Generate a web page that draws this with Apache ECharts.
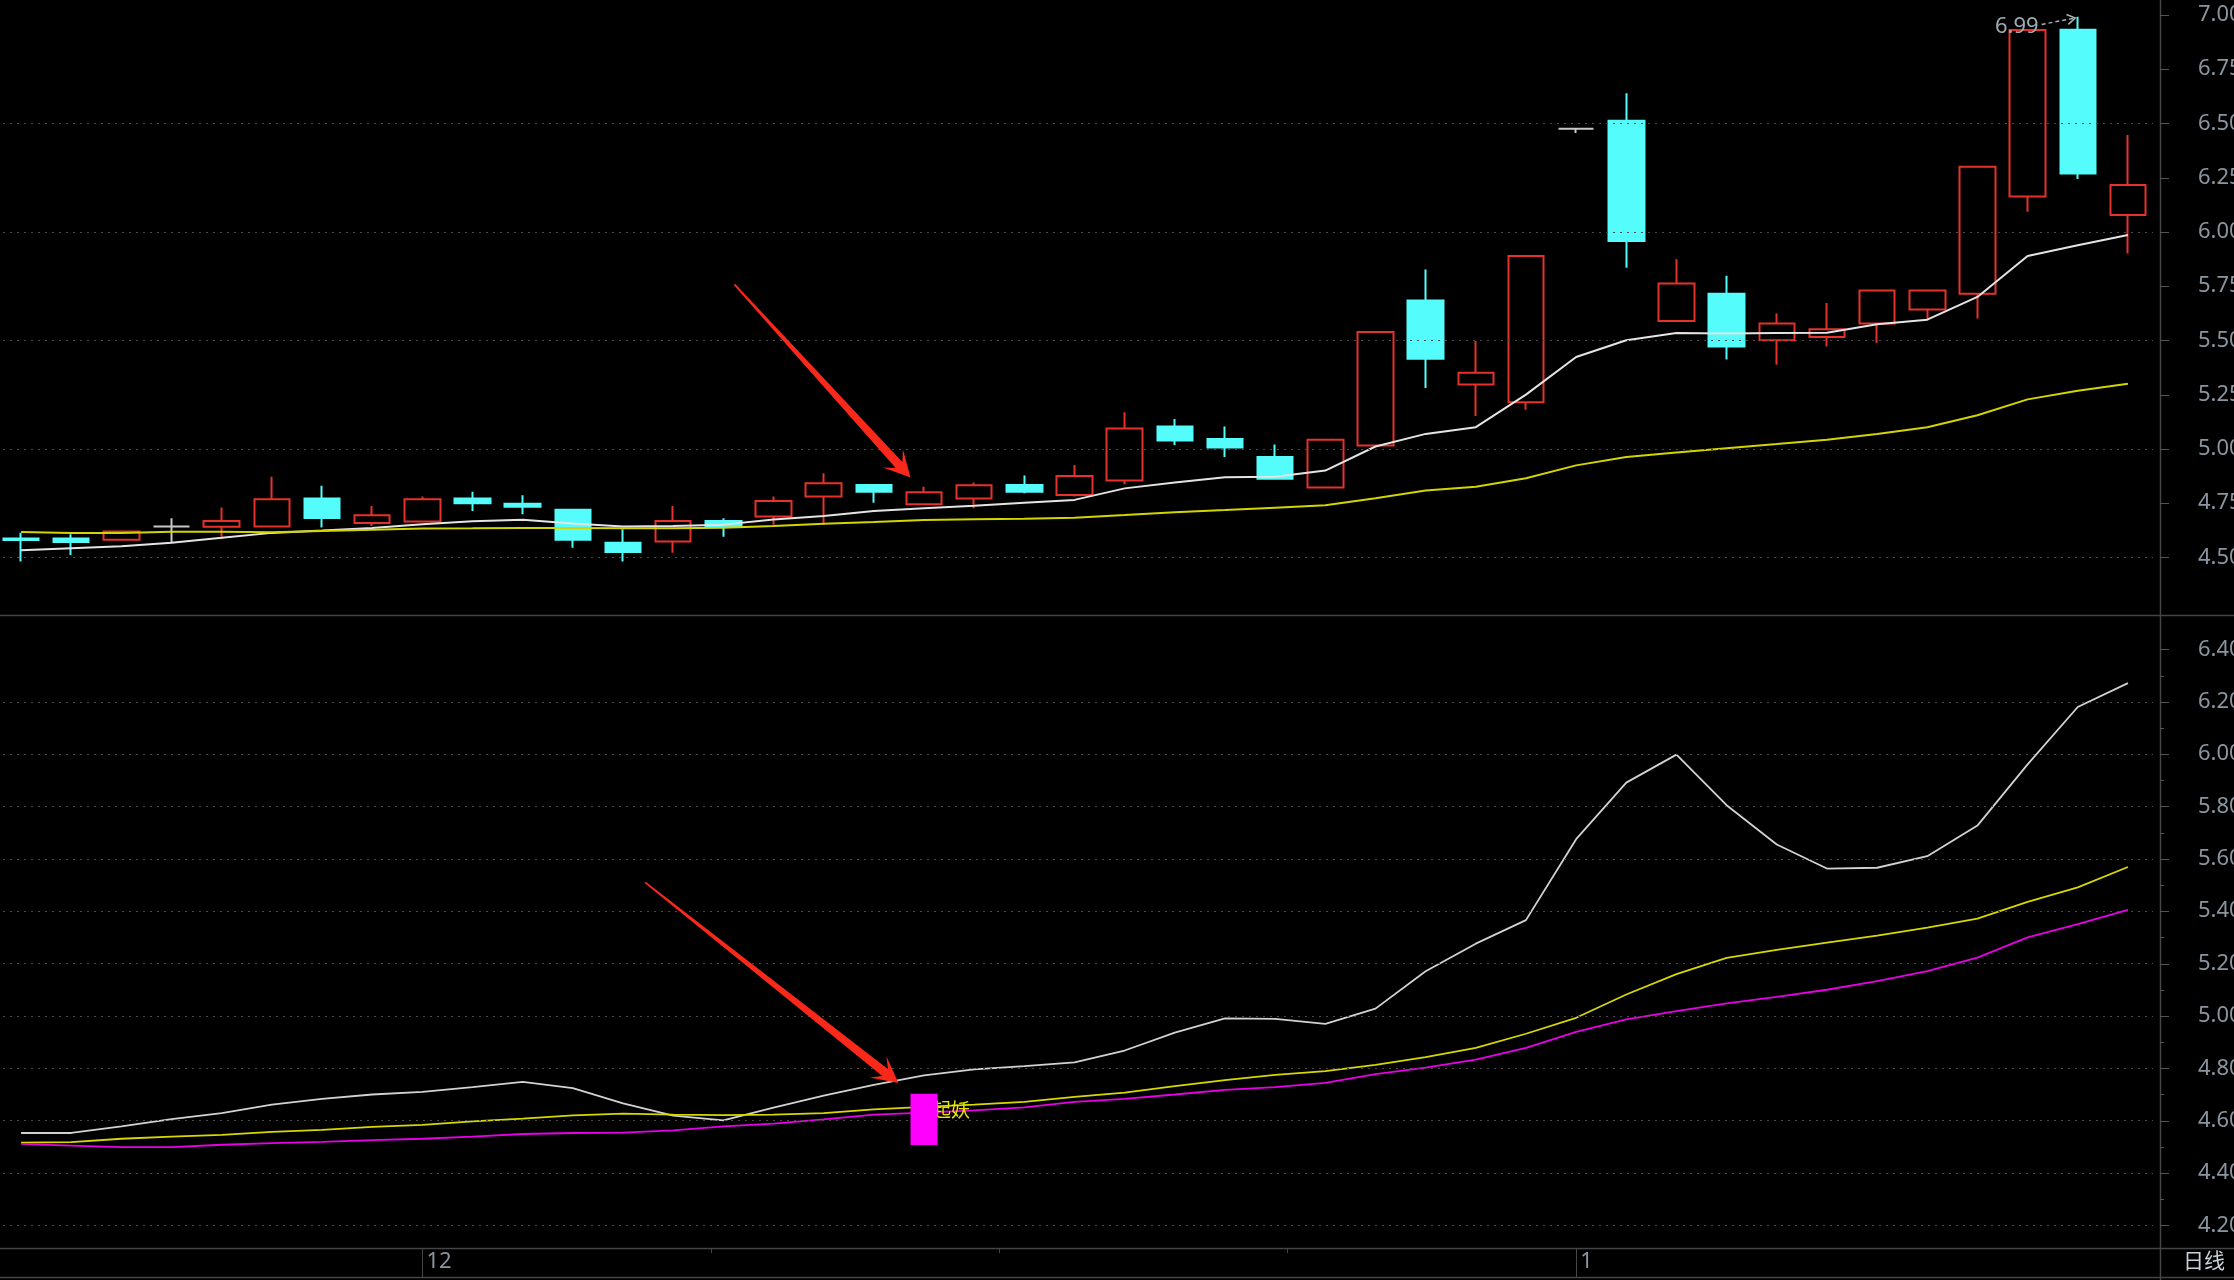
<!DOCTYPE html>
<html>
<head>
<meta charset="utf-8">
<script src="https://cdn.jsdelivr.net/npm/echarts@6/dist/echarts.min.js"></script>
<style>
html,body{margin:0;padding:0;background:#000;}
#chart{width:2234px;height:1280px;}
</style>
</head>
<body>
<div id="chart"></div>
<script>
// ---------- data ----------
const sessions = ['1','2','3','4','5','6','7','8','9','10','11','12','13','14','15','16','17','18','19','20','21','22','23','24','25','26','27','28','29','30','31','32','33','34','35','36','37','38','39','40','41','42','43'];

const openP  = [4.587,4.587,4.581,4.642,4.641,4.642,4.771,4.659,4.665,4.771,4.747,4.719,4.568,4.573,4.668,4.688,4.780,4.834,4.745,4.771,4.834,4.788,4.854,5.103,5.045,4.962,4.822,5.015,5.683,5.297,5.215,6.475,6.511,5.589,5.714,5.500,5.515,5.577,5.642,5.715,6.162,6.931,6.077];
const closeP = [4.580,4.571,4.619,4.642,4.668,4.768,4.682,4.694,4.768,4.750,4.733,4.581,4.525,4.668,4.642,4.760,4.842,4.803,4.800,4.832,4.803,4.875,5.094,5.038,5.006,4.862,5.042,5.538,5.415,5.351,5.888,6.475,5.958,5.762,5.472,5.577,5.551,5.729,5.729,6.300,6.929,6.269,6.215];
const lowP   = [4.481,4.511,4.581,4.568,4.584,4.642,4.638,4.645,4.665,4.714,4.699,4.545,4.481,4.522,4.595,4.650,4.650,4.752,4.745,4.726,4.795,4.780,4.837,5.018,4.962,4.862,4.822,5.015,5.280,5.151,5.180,6.455,5.834,5.589,5.412,5.388,5.472,5.489,5.592,5.600,6.092,6.243,5.900];
const highP  = [4.614,4.607,4.619,4.680,4.730,4.872,4.830,4.737,4.780,4.803,4.786,4.719,4.630,4.737,4.680,4.780,4.888,4.837,4.826,4.845,4.877,4.926,5.169,5.138,5.103,5.020,5.042,5.538,5.826,5.497,5.888,6.475,6.638,5.874,5.797,5.623,5.672,5.729,5.729,6.300,6.929,6.990,6.446];

const priceLineWhite  = [4.533,4.542,4.551,4.568,4.590,4.613,4.624,4.636,4.653,4.667,4.673,4.656,4.642,4.645,4.651,4.675,4.691,4.714,4.726,4.738,4.752,4.765,4.818,4.845,4.869,4.872,4.900,5.011,5.069,5.100,5.250,5.423,5.500,5.534,5.531,5.534,5.535,5.574,5.595,5.700,5.888,5.938,5.985];
const priceLineYellow = [4.617,4.613,4.613,4.618,4.618,4.616,4.622,4.627,4.633,4.634,4.636,4.636,4.634,4.634,4.637,4.645,4.655,4.663,4.672,4.676,4.678,4.683,4.695,4.708,4.718,4.729,4.740,4.772,4.808,4.825,4.865,4.924,4.963,4.983,5.003,5.022,5.042,5.068,5.100,5.155,5.228,5.268,5.300];

const indWhite   = [4.553,4.553,4.578,4.606,4.629,4.661,4.683,4.700,4.710,4.728,4.748,4.724,4.666,4.619,4.601,4.650,4.696,4.737,4.773,4.796,4.808,4.823,4.868,4.936,4.991,4.989,4.970,5.028,5.171,5.276,5.366,5.675,5.891,5.998,5.805,5.655,5.563,5.566,5.610,5.727,5.961,6.180,6.271];
const indYellow  = [4.516,4.518,4.531,4.539,4.546,4.557,4.565,4.576,4.584,4.597,4.608,4.620,4.627,4.623,4.621,4.623,4.629,4.643,4.653,4.661,4.672,4.691,4.707,4.732,4.755,4.775,4.789,4.813,4.843,4.878,4.932,4.993,5.082,5.160,5.222,5.252,5.280,5.307,5.337,5.372,5.436,5.491,5.569];
const indMagenta = [4.511,4.505,4.499,4.499,4.508,4.514,4.519,4.526,4.531,4.539,4.549,4.553,4.554,4.563,4.578,4.589,4.605,4.623,4.631,4.639,4.651,4.672,4.683,4.700,4.718,4.728,4.744,4.778,4.803,4.833,4.878,4.939,4.987,5.018,5.048,5.073,5.100,5.133,5.171,5.223,5.300,5.351,5.405];

const signalBars = [[18, 4.507, 4.703]];   // session index, bottom, top
const signalText = '起妖';
const signalTextValue = 4.641;

const priceTicks = [4.50,4.75,5.00,5.25,5.50,5.75,6.00,6.25,6.50,6.75,7.00];
const priceGridLines = [4.5,5.0,5.5,6.0,6.5];
const indTicks = [4.2,4.4,4.6,4.8,5.0,5.2,5.4,5.6,5.8,6.0,6.2,6.4];
const indMinorTicks = [4.3,4.5,4.7,4.9,5.1,5.3,5.5,5.7,5.9,6.1,6.3];
const indGridLines = [4.2,4.4,4.6,4.8,5.0,5.2,5.4,5.6,5.8,6.0,6.2];

const monthTickPos = [8, 31];
const monthLabels = ['12', '1'];
const minorDateTicks = [13.75, 19.5, 25.25];

const highMark = [[40.28, 6.955, 40.95, 6.985]];
const highMarkText = '6.99';
const arrowTop = [[14.22, 5.758, 17.73, 4.868]];
const arrowBottom = [[12.44, 5.510, 17.49, 4.744]];

// ---------- styles ----------
const RED = '#e6322b', CYAN = '#54fcfc', AXIS_TXT = '#8a95a0', FRAME = '#454545', TICK = '#555';
const FONT = '"Noto Sans", "Noto Sans CJK SC", sans-serif';
const X_MAX = 42.5;   // right end of the session axis

const candles = sessions.map((_, i) => [openP[i], closeP[i], lowP[i], highP[i]]);

function gridMarkLine(vals) {
  return {
    silent: true, symbol: ['none', 'none'], animation: false,
    label: { show: false },
    lineStyle: { color: '#4a4a4a', width: 1, type: [2, 5] },
    data: vals.map(v => ({ yAxis: v }))
  };
}

function tickRenderer(len) {
  return function (params, api) {
    const p = api.coord([api.value(0), api.value(1)]);
    const y = Math.round(p[1]) + 0.5;
    return { type: 'line', shape: { x1: p[0] + 7, y1: y, x2: p[0] + 7 + len, y2: y },
      style: { stroke: TICK, lineWidth: 1 } };
  };
}

function renderArrow(params, api) {
  const p0 = api.coord([api.value(0), api.value(1)]);
  const p1 = api.coord([api.value(2), api.value(3)]);
  const dx = p1[0] - p0[0], dy = p1[1] - p0[1];
  const L = Math.hypot(dx, dy);
  const ux = dx / L, uy = dy / L, nx = -uy, ny = ux;
  const pt = (d, w) => [p1[0] - ux * d + nx * w, p1[1] - uy * d + ny * w];
  return {
    type: 'polygon',
    shape: { points: [pt(L, 0.9), pt(17, 4.5), pt(26, 13.5), p1, pt(26, -13.5), pt(17, -4.5), pt(L, -0.9)] },
    style: { fill: '#f8291b' }
  };
}

function renderHighMark(params, api) {
  const p0 = api.coord([api.value(0), api.value(1)]);
  const p1 = api.coord([api.value(2), api.value(3)]);
  const dx = p1[0] - p0[0], dy = p1[1] - p0[1];
  const L = Math.hypot(dx, dy);
  const ux = dx / L, uy = dy / L, nx = -uy, ny = ux;
  const pt = (d, w) => [p1[0] - ux * d + nx * w, p1[1] - uy * d + ny * w];
  return {
    type: 'group',
    children: [
      { type: 'line', shape: { x1: p0[0], y1: p0[1], x2: p1[0], y2: p1[1] },
        style: { stroke: '#a8b0b8', lineWidth: 1.5, lineDash: [4, 3] } },
      { type: 'polyline', shape: { points: [pt(8, 5), p1, pt(8, -5)] },
        style: { stroke: '#a8b0b8', lineWidth: 1.5, fill: null } },
      { type: 'text', x: p0[0] - 3, y: p0[1] + 2,
        style: { text: highMarkText, fill: '#9ea9b4', font: '22px ' + FONT, align: 'right', verticalAlign: 'middle' } }
    ]
  };
}

function renderSignal(params, api) {
  const x = api.value(0);
  const pTop = api.coord([x, api.value(2)]);
  const pBot = api.coord([x, api.value(1)]);
  const pTxt = api.coord([x, signalTextValue]);
  const w = 27;
  return {
    type: 'group',
    children: [
      { type: 'text', x: pTxt[0] + 8, y: pTxt[1],
        style: { text: signalText, fill: '#e8e800', font: '19px "Noto Sans CJK SC", sans-serif', align: 'left', verticalAlign: 'middle' } },
      { type: 'rect', shape: { x: pTop[0] - w / 2, y: pTop[1], width: w, height: pBot[1] - pTop[1] },
        style: { fill: '#ff00ff' } }
    ]
  };
}

const G = { left: -4, width: 2157, outerBoundsMode: 'none', containLabel: false };

const option = {
  backgroundColor: '#000',
  animation: false,
  title: {
    text: '日线', left: 2183, top: 1250, padding: 0,
    textStyle: { color: '#c8d0d8', fontSize: 21, fontWeight: 'normal', fontFamily: '"Noto Sans CJK SC", sans-serif' }
  },
  grid: [
    Object.assign({ top: 0, height: 615 }, G),
    Object.assign({ top: 617, height: 630 }, G),
    Object.assign({ top: 1248, height: 29 }, G)
  ],
  xAxis: [
    { type: 'category', gridIndex: 0, data: sessions, boundaryGap: true, show: false },
    { type: 'category', gridIndex: 1, data: sessions, boundaryGap: true, show: false },
    { type: 'value', gridIndex: 0, min: -0.5, max: X_MAX, show: false },
    { type: 'value', gridIndex: 1, min: -0.5, max: X_MAX, show: false },
    { type: 'value', gridIndex: 2, min: -0.5, max: X_MAX, position: 'bottom',
      axisLine: { show: false }, splitLine: { show: false },
      axisTick: { show: true, inside: true, length: 29, customValues: monthTickPos, lineStyle: { color: FRAME, width: 1 } },
      axisLabel: { show: true, inside: true, customValues: monthTickPos, margin: 4, align: 'left', padding: [0, 0, 0, 4],
        formatter: v => monthLabels[monthTickPos.indexOf(v)], color: AXIS_TXT, fontSize: 22, fontFamily: FONT } },
    { type: 'value', gridIndex: 2, min: -0.5, max: X_MAX, position: 'top',
      axisLine: { show: false }, splitLine: { show: false }, axisLabel: { show: false },
      axisTick: { show: true, inside: true, length: 5, customValues: minorDateTicks, lineStyle: { color: FRAME, width: 1 } } }
  ],
  yAxis: [
    { type: 'value', gridIndex: 0, position: 'right', offset: 7, min: 4.2347, max: 7.0677,
      axisLine: { show: false }, splitLine: { show: false }, axisTick: { show: false },
      axisLabel: { customValues: priceTicks, formatter: v => v.toFixed(2), margin: 38, color: AXIS_TXT, fontSize: 22, fontFamily: FONT } },
    { type: 'value', gridIndex: 1, position: 'right', offset: 7, min: 4.1175, max: 6.5237,
      axisLine: { show: false }, splitLine: { show: false }, axisTick: { show: false },
      axisLabel: { customValues: indTicks, formatter: v => v.toFixed(2), margin: 38, color: AXIS_TXT, fontSize: 22, fontFamily: FONT } },
    { type: 'value', gridIndex: 2, min: 0, max: 1, show: false }
  ],
  series: [
    { type: 'candlestick', xAxisIndex: 0, yAxisIndex: 0, data: candles, barWidth: 36, z: 2,
      itemStyle: { color: 'transparent', color0: CYAN, borderColor: RED, borderColor0: CYAN, borderColorDoji: '#c8c8c8', borderWidth: 2 } },
    { type: 'line', xAxisIndex: 0, yAxisIndex: 0, data: priceLineWhite, symbol: 'none', z: 3,
      lineStyle: { color: '#e4e4e4', width: 2 }, markLine: gridMarkLine(priceGridLines) },
    { type: 'line', xAxisIndex: 0, yAxisIndex: 0, data: priceLineYellow, symbol: 'none', z: 3,
      lineStyle: { color: '#d4d400', width: 2 } },
    { type: 'custom', xAxisIndex: 2, yAxisIndex: 0, data: arrowTop, encode: { x: [0, 2], y: [1, 3] }, renderItem: renderArrow, z: 10, silent: true },
    { type: 'custom', xAxisIndex: 2, yAxisIndex: 0, data: highMark, encode: { x: [0, 2], y: [1, 3] }, renderItem: renderHighMark, z: 10, silent: true, clip: false },
    { type: 'custom', xAxisIndex: 2, yAxisIndex: 0, data: priceTicks.map(v => [X_MAX, v]), encode: { x: 0, y: 1 },
      renderItem: tickRenderer(9), clip: false, silent: true },

    { type: 'line', xAxisIndex: 1, yAxisIndex: 1, data: indWhite, symbol: 'none', z: 3,
      lineStyle: { color: '#d2d2d2', width: 1.8 }, markLine: gridMarkLine(indGridLines) },
    { type: 'line', xAxisIndex: 1, yAxisIndex: 1, data: indYellow, symbol: 'none', z: 3,
      lineStyle: { color: '#d8d800', width: 1.8 } },
    { type: 'line', xAxisIndex: 1, yAxisIndex: 1, data: indMagenta, symbol: 'none', z: 3,
      lineStyle: { color: '#e800e8', width: 1.8 } },
    { type: 'custom', xAxisIndex: 1, yAxisIndex: 1, data: signalBars, encode: { x: 0, y: [1, 2] }, renderItem: renderSignal, z: 5, silent: true },
    { type: 'custom', xAxisIndex: 3, yAxisIndex: 1, data: arrowBottom, encode: { x: [0, 2], y: [1, 3] }, renderItem: renderArrow, z: 10, silent: true },
    { type: 'custom', xAxisIndex: 3, yAxisIndex: 1, data: indTicks.map(v => [X_MAX, v]), encode: { x: 0, y: 1 },
      renderItem: tickRenderer(9), clip: false, silent: true },
    { type: 'custom', xAxisIndex: 3, yAxisIndex: 1, data: indMinorTicks.map(v => [X_MAX, v]), encode: { x: 0, y: 1 },
      renderItem: tickRenderer(4), clip: false, silent: true }
  ],
  graphic: [
    { type: 'line', silent: true, shape: { x1: 0, y1: 615.5, x2: 2234, y2: 615.5 }, style: { stroke: FRAME, lineWidth: 1.5 } },
    { type: 'line', silent: true, shape: { x1: 0, y1: 1248.5, x2: 2234, y2: 1248.5 }, style: { stroke: FRAME, lineWidth: 1.5 } },
    { type: 'line', silent: true, shape: { x1: 0, y1: 1277.5, x2: 2234, y2: 1277.5 }, style: { stroke: FRAME, lineWidth: 1.5 } },
    { type: 'line', silent: true, shape: { x1: 2160.5, y1: 0, x2: 2160.5, y2: 1280 }, style: { stroke: FRAME, lineWidth: 1.5 } }
  ]
};

const chart = echarts.init(document.getElementById('chart'), null, { renderer: 'canvas' });
chart.setOption(option);
</script>
</body>
</html>
